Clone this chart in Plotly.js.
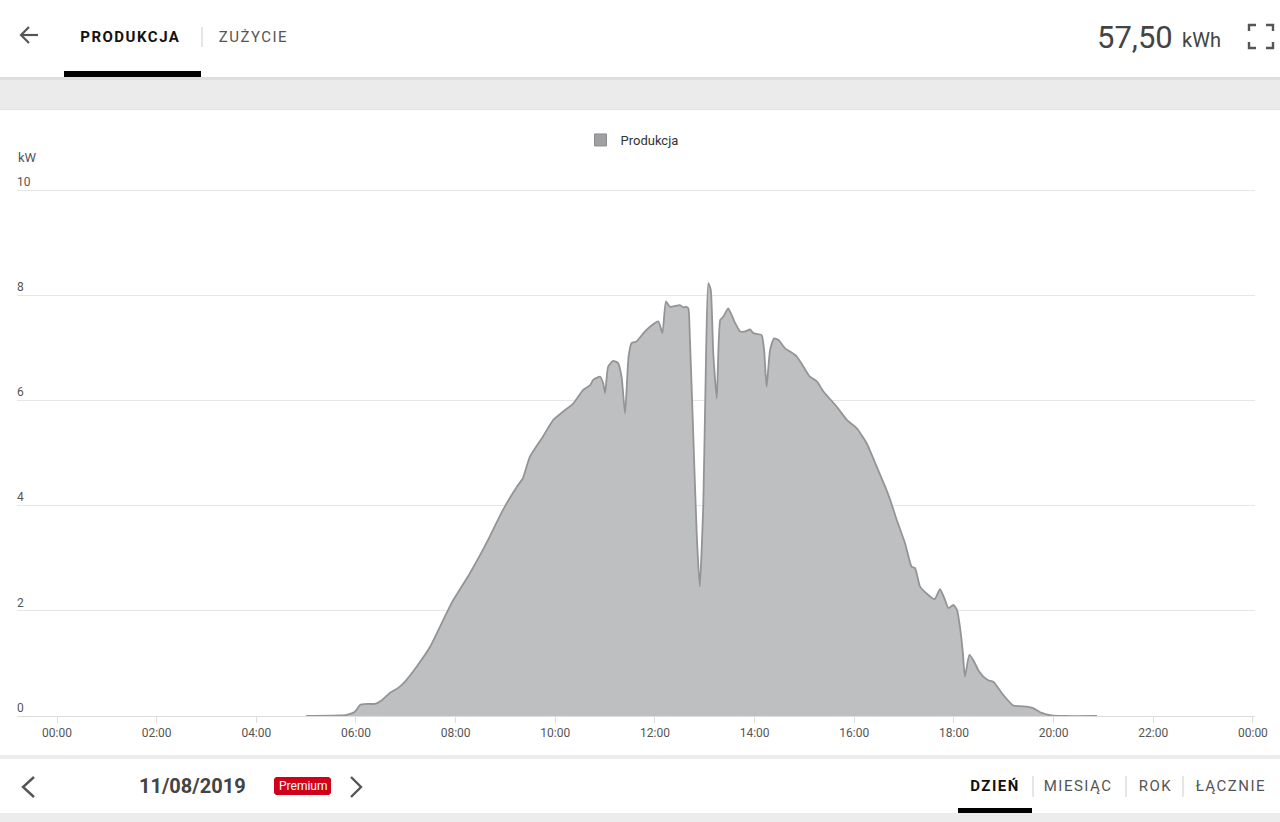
<!DOCTYPE html>
<html>
<head>
<meta charset="utf-8">
<script src="https://cdn.plot.ly/plotly-3.0.1.min.js"></script>
<style>
html,body{margin:0;padding:0;background:#fff;overflow:hidden;}
#chart{width:1280px;height:822px;}
g.annotation[data-index="0"] text, g.annotation[data-index="1"] text,
g.annotation[data-index="6"] text, g.annotation[data-index="7"] text,
g.annotation[data-index="8"] text, g.annotation[data-index="9"] text {letter-spacing:1.5px;}
</style>
</head>
<body>
<div id="chart"></div>
<script>
// ---- data ----
const hours = [5.0, 5.68, 5.81, 5.98, 6.08, 6.22, 6.38, 6.52, 6.68, 6.84, 6.98, 7.22, 7.49, 7.82, 7.95, 8.29, 8.62, 8.95, 9.23, 9.35, 9.49, 9.75, 9.96, 10.16, 10.36, 10.56, 10.70, 10.76, 10.90, 10.96, 11.0, 11.06, 11.16, 11.26, 11.33, 11.40, 11.47, 11.53, 11.63, 11.77, 11.90, 12.07, 12.15, 12.22, 12.30, 12.50, 12.57, 12.63, 12.67, 12.70, 12.77, 12.84, 12.90, 12.97, 13.02, 13.07, 13.12, 13.17, 13.24, 13.31, 13.37, 13.47, 13.54, 13.61, 13.71, 13.81, 13.91, 13.97, 14.14, 14.19, 14.24, 14.31, 14.39, 14.48, 14.61, 14.71, 14.84, 14.98, 15.11, 15.25, 15.38, 15.65, 15.85, 16.05, 16.25, 16.45, 16.62, 16.72, 16.85, 17.02, 17.15, 17.22, 17.32, 17.45, 17.61, 17.72, 17.82, 17.89, 17.99, 18.06, 18.12, 18.18, 18.22, 18.31, 18.39, 18.49, 18.59, 18.69, 18.79, 18.99, 19.19, 19.46, 19.59, 19.76, 19.96, 20.2, 20.87];
const produkcjaKW = [0, 0.01, 0.02, 0.08, 0.21, 0.23, 0.23, 0.30, 0.44, 0.53, 0.65, 0.94, 1.32, 1.96, 2.2, 2.72, 3.29, 3.92, 4.36, 4.52, 4.93, 5.31, 5.63, 5.79, 5.94, 6.20, 6.29, 6.39, 6.45, 6.33, 6.14, 6.64, 6.75, 6.71, 6.45, 5.75, 6.83, 7.09, 7.12, 7.28, 7.40, 7.50, 7.28, 7.88, 7.78, 7.81, 7.77, 7.78, 7.75, 7.21, 5.31, 3.41, 2.46, 4.04, 6.58, 8.23, 8.10, 6.90, 6.04, 7.53, 7.59, 7.75, 7.62, 7.47, 7.31, 7.31, 7.35, 7.28, 7.24, 6.96, 6.26, 6.96, 7.18, 7.15, 6.99, 6.93, 6.84, 6.64, 6.45, 6.36, 6.17, 5.88, 5.63, 5.47, 5.18, 4.74, 4.36, 4.11, 3.73, 3.28, 2.84, 2.81, 2.46, 2.33, 2.22, 2.41, 2.21, 2.05, 2.11, 2.02, 1.70, 1.19, 0.75, 1.16, 1.06, 0.87, 0.75, 0.68, 0.65, 0.40, 0.20, 0.18, 0.15, 0.06, 0.01, 0, 0];
const xTickVals = [0, 2, 4, 6, 8, 10, 12, 14, 16, 18, 20, 22, 24];
const xTickText = ["00:00", "02:00", "04:00", "06:00", "08:00", "10:00", "12:00", "14:00", "16:00", "18:00", "20:00", "22:00", "00:00"];
const yTickVals = [0, 2, 4, 6, 8, 10];
const seriesName = "Produkcja";
const totalText = "57,50";
const dateText = "11/08/2019";

// ---- helpers (pixel -> paper) ----
const W = 1280, H = 822;
const px = x => x / W;
const py = y => 1 - y / H;
const path = pts => pts.map((p, i) => (i ? 'L ' : 'M ') + px(p[0]) + ' ' + py(p[1])).join(' ');

const FONT = 'Roboto, "Noto Sans", sans-serif';
const rect = (x0, y0, x1, y1, color) => ({type: 'rect', xref: 'paper', yref: 'paper', x0: px(x0), x1: px(x1), y0: py(y1), y1: py(y0), fillcolor: color, line: {width: 0}, layer: 'below'});
const line = (pts, color, width) => ({type: 'path', xref: 'paper', yref: 'paper', path: path(pts), line: {color: color, width: width}, layer: 'above'});
const ann = (text, x, y, size, color, opts) => Object.assign({xref: 'paper', yref: 'paper', x: px(x), y: py(y), text: text, showarrow: false, xanchor: 'left', yanchor: 'middle', font: {family: FONT, size: size, color: color}}, opts || {});

const shapes = [
  rect(0, 77, 1280, 109, '#ebebeb'),
  rect(0, 77, 1280, 80, '#dedede'),
  rect(0, 109, 1280, 110, '#e4e4e4'),
  rect(0, 755, 1280, 759, '#ececec'),
  rect(0, 813, 1280, 822, '#ececec'),
  rect(64, 71, 201, 77, '#000000'),
  rect(958, 808, 1032, 813, '#000000'),
  line([[202, 27], [202, 47]], '#cccccc', 1),
  line([[1033, 776], [1033, 797]], '#cccccc', 1),
  line([[1126, 776], [1126, 797]], '#cccccc', 1),
  line([[1183, 776], [1183, 797]], '#cccccc', 1),
  // back arrow
  line([[21, 35], [38, 35]], '#555555', 2.2),
  line([[29, 27], [21, 35], [29, 43]], '#555555', 2.2),
  // fullscreen icon
  line([[1249, 31], [1249, 25], [1256, 25]], '#555555', 2.4),
  line([[1266, 25], [1273, 25], [1273, 31]], '#555555', 2.4),
  line([[1249, 42], [1249, 48], [1256, 48]], '#555555', 2.4),
  line([[1266, 48], [1273, 48], [1273, 42]], '#555555', 2.4),
  // footer chevrons
  line([[34, 777], [23, 787], [34, 797]], '#555555', 2.4),
  line([[351, 777], [361, 787], [351, 797]], '#555555', 2.4),
  // premium badge
  {type: 'path', xref: 'paper', yref: 'paper', path: path([[276, 777], [329, 777], [331, 779], [331, 793], [329, 795], [276, 795], [274, 793], [274, 779]]) + ' Z', fillcolor: '#d0021b', line: {width: 0}, layer: 'above'}
];

const annotations = [
  ann('<b>PRODUKCJA</b>', 85, 37, 15, '#111111'),
  ann('ZUŻYCIE', 222, 37, 15, '#555555'),
  ann(totalText, 1095, 37, 31, '#444444'),
  ann('kWh', 1180, 40, 20, '#444444'),
  ann('kW', 16, 157, 13, '#555555'),
  ann('<b>' + dateText + '</b>', 192, 786, 20, '#444444', {xanchor: 'center'}),
  ann('<b>DZIEŃ</b>', 972, 786, 15, '#111111'),
  ann('MIESIĄC', 1047, 786, 15, '#555555'),
  ann('ROK', 1139, 786, 15, '#555555'),
  ann('ŁĄCZNIE', 1199, 786, 15, '#555555'),
  ann('Premium', 302.5, 786, 12, '#ffffff', {xanchor: 'center'})
];

const areaTrace = {
  x: hours,
  y: produkcjaKW,
  name: seriesName,
  type: 'scatter',
  mode: 'lines',
  fill: 'tozeroy',
  fillcolor: 'rgb(190,191,193)',
  line: {color: 'rgb(148,148,150)', width: 1.8, shape: 'spline', smoothing: 0.5},
  hoverinfo: 'skip',
  showlegend: false
};
// legend swatch (square, as in the reference)
const legendTrace = {
  x: [null], y: [null],
  name: seriesName,
  type: 'scatter',
  mode: 'markers',
  marker: {symbol: 'square', size: 12, color: 'rgb(160,160,162)', line: {color: 'rgb(140,140,142)', width: 1}},
  hoverinfo: 'skip',
  showlegend: true
};

const yTop = 10.35;
const layout = {
  width: W, height: H,
  margin: {l: 0, r: 0, t: 0, b: 0, pad: 0},
  paper_bgcolor: '#ffffff',
  plot_bgcolor: '#ffffff',
  font: {family: FONT, size: 12, color: '#555555'},
  showlegend: true,
  legend: {orientation: 'h', x: px(632), xanchor: 'center', y: py(140), yanchor: 'middle', font: {family: FONT, size: 13, color: '#333333'}, bgcolor: 'rgba(0,0,0,0)'},
  xaxis: {
    domain: [px(17), px(1255)],
    range: [(17 - 57) / 49.83, (1255 - 57) / 49.83],
    tickmode: 'array', tickvals: xTickVals, ticktext: xTickText,
    showgrid: false, zeroline: false,
    showline: true, linecolor: '#dddddd', linewidth: 1,
    ticks: 'outside', ticklen: 6, tickcolor: '#dddddd', tickwidth: 1,
    tickfont: {family: FONT, size: 12, color: '#555555'},
    automargin: false, fixedrange: true
  },
  yaxis: {
    domain: [py(716), py(716 - 52.6 * yTop)],
    range: [0, yTop],
    tickmode: 'array', tickvals: yTickVals,
    showgrid: true, gridcolor: '#e6e6e6', gridwidth: 1,
    zeroline: false, showline: false,
    ticks: '', ticklabelposition: 'inside top', ticklabelstandoff: -3,
    tickfont: {family: FONT, size: 12, color: '#555555'},
    automargin: false, fixedrange: true
  },
  shapes: shapes,
  annotations: annotations
};

Plotly.newPlot('chart', [areaTrace, legendTrace], layout, {displayModeBar: false, staticPlot: true});
</script>
</body>
</html>
